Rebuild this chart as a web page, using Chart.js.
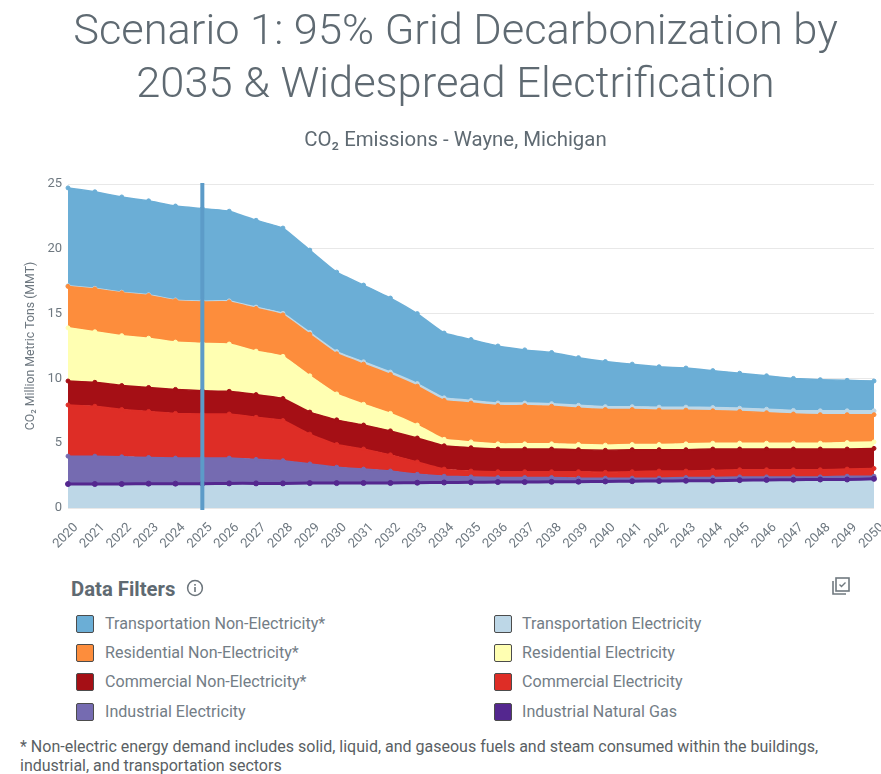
<!DOCTYPE html>
<html>
<head>
<meta charset="utf-8">
<script src="https://cdn.jsdelivr.net/npm/chart.js@4"></script>
<style>
    html, body { margin: 0; padding: 0; background: #fff; font-family: Roboto, sans-serif; }
    #page { position: relative; width: 881px; height: 774px; overflow: hidden; }
    #chartWrap { position: absolute; left: 0; top: 0; }
    h1 { position: absolute; left: 0; top: 3px; width: 911px; margin: 0; text-align: center; font-weight: 300; font-size: 43.4px; line-height: 53px; color: #5f6a72; }
    h2 { position: absolute; left: 0; top: 126px; width: 911px; margin: 0; text-align: center; font-weight: 400; font-size: 20.4px; line-height: 26px; color: #5f6a72; }
    #filters { position: absolute; left: 71px; top: 577px; font-size: 20.3px; font-weight: 700; color: #5f6a72; }
    .icon { position: absolute; }
    .item { position: absolute; font-size: 16.1px; line-height: 20px; color: #737d86; white-space: nowrap; }
    .swatch { position: absolute; width: 16px; height: 16px; border: 1px solid #4c4c4c; border-radius: 2px; }
    #note { position: absolute; left: 20px; top: 737px; width: 850px; font-size: 16px; line-height: 19px; color: #5a5f64; }
</style>
</head>
<body>
<div id="page">
    <div id="chartWrap"><canvas id="areaChart" width="881" height="560"></canvas></div>
    <h1>Scenario 1: 95% Grid Decarbonization by<br>2035 &amp; Widespread Electrification</h1>
    <h2>CO₂ Emissions - Wayne, Michigan</h2>
    <div id="filters">Data Filters</div>
    <svg class="icon" style="left:186px;top:579px" width="18" height="18" viewBox="0 0 18 18">
        <circle cx="9" cy="9" r="7.4" fill="none" stroke="#6b747b" stroke-width="1.5"/>
        <rect x="8.2" y="8" width="1.6" height="5" fill="#6b747b"/>
        <rect x="8.2" y="5" width="1.6" height="1.7" fill="#6b747b"/>
    </svg>
    <svg class="icon" style="left:831px;top:576px" width="20" height="20" viewBox="0 0 20 20">
        <rect x="5" y="2" width="13" height="13" fill="none" stroke="#70797f" stroke-width="1.6"/>
        <path d="M2 5v13h13" fill="none" stroke="#70797f" stroke-width="1.6"/>
        <path d="M8.5 8.5l2 2 4-4" fill="none" stroke="#70797f" stroke-width="1.4"/>
    </svg>
    <div id="legend"></div>
    <div id="note">* Non-electric energy demand includes solid, liquid, and gaseous fuels and steam consumed within the buildings, industrial, and transportation sectors</div>
</div>
<script>
// Values (MMT per year, stacked from the bottom up)
const years = ['2020', '2021', '2022', '2023', '2024', '2025', '2026', '2027', '2028', '2029', '2030', '2031', '2032', '2033', '2034', '2035', '2036', '2037', '2038', '2039', '2040', '2041', '2042', '2043', '2044', '2045', '2046', '2047', '2048', '2049', '2050'];
const yTicks = [0, 5, 10, 15, 20, 25];
const markedYear = '2025';

const industrialGas = [1.85, 1.85, 1.85, 1.88, 1.88, 1.88, 1.9, 1.9, 1.9, 1.92, 1.92, 1.93, 1.93, 1.95, 1.97, 1.98, 2.0, 2.0, 2.02, 2.03, 2.05, 2.07, 2.08, 2.1, 2.1, 2.15, 2.17, 2.18, 2.2, 2.2, 2.25];
const industrialElectricity = [2.15, 2.15, 2.1, 2.02, 1.97, 1.97, 1.95, 1.85, 1.75, 1.48, 1.23, 1.07, 0.92, 0.65, 0.48, 0.42, 0.35, 0.35, 0.33, 0.27, 0.25, 0.23, 0.22, 0.25, 0.25, 0.25, 0.23, 0.22, 0.2, 0.25, 0.2];
const commercialElectricity = [3.95, 3.85, 3.65, 3.55, 3.45, 3.4, 3.4, 3.25, 3.1, 2.3, 1.75, 1.55, 1.25, 0.95, 0.55, 0.45, 0.45, 0.45, 0.45, 0.5, 0.45, 0.5, 0.55, 0.5, 0.55, 0.55, 0.55, 0.55, 0.55, 0.55, 0.6];
const commercialNonElectricity = [1.85, 1.85, 1.85, 1.85, 1.85, 1.8, 1.75, 1.75, 1.7, 1.7, 1.9, 1.85, 1.85, 1.85, 1.8, 1.8, 1.75, 1.75, 1.75, 1.7, 1.7, 1.7, 1.65, 1.65, 1.65, 1.6, 1.6, 1.6, 1.6, 1.55, 1.55];
const residentialElectricity = [4.1, 3.9, 3.85, 3.8, 3.65, 3.65, 3.65, 3.35, 3.25, 2.8, 2.0, 1.6, 1.35, 1.0, 0.5, 0.45, 0.4, 0.4, 0.4, 0.4, 0.4, 0.4, 0.4, 0.45, 0.45, 0.45, 0.45, 0.45, 0.45, 0.5, 0.5];
const residentialNonElectricity = [3.2, 3.3, 3.3, 3.3, 3.2, 3.2, 3.25, 3.3, 3.2, 3.2, 3.1, 3.1, 3.0, 3.0, 3.0, 3.0, 2.95, 2.95, 2.9, 2.8, 2.75, 2.7, 2.65, 2.6, 2.5, 2.45, 2.35, 2.25, 2.2, 2.15, 2.1];
const transportationElectricity = [0.05, 0.05, 0.05, 0.05, 0.05, 0.06, 0.08, 0.1, 0.12, 0.15, 0.17, 0.18, 0.19, 0.2, 0.2, 0.2, 0.2, 0.2, 0.2, 0.22, 0.22, 0.22, 0.23, 0.23, 0.25, 0.25, 0.27, 0.28, 0.3, 0.3, 0.3];
const transportationNonElectricity = [7.55, 7.45, 7.35, 7.25, 7.25, 7.14, 6.92, 6.7, 6.58, 6.35, 6.13, 5.92, 5.71, 5.4, 5.0, 4.7, 4.4, 4.1, 3.95, 3.68, 3.48, 3.28, 3.12, 3.02, 2.85, 2.7, 2.58, 2.47, 2.4, 2.35, 2.3];

const BLUE = 'rgb(107, 174, 214)';
const PALE_BLUE = 'rgb(189, 215, 231)';
const ORANGE = 'rgb(253, 141, 60)';
const PALE_YELLOW = 'rgb(255, 255, 178)';
const DARK_RED = 'rgb(165, 15, 21)';
const RED = 'rgb(222, 45, 38)';
const PURPLE = 'rgb(117, 107, 177)';
const DARK_PURPLE = 'rgb(84, 39, 143)';

function area(label, data, color, fill, fillColor, width, radius) {
    return {
        label: label,
        data: data,
        borderColor: color,
        backgroundColor: fillColor || color,
        pointBackgroundColor: color,
        pointBorderColor: color,
        pointRadius: radius || 2,
        pointBorderWidth: 1,
        borderWidth: width || 1.5,
        tension: 0.12,
        fill: fill
    };
}

// Marker line at the selected year, placed through the x scale
const yearMarker = {
    id: 'yearMarker',
    afterDatasetsDraw(chart) {
        const x = chart.scales.x.getPixelForValue(years.indexOf(markedYear));
        const ctx = chart.ctx;
        ctx.save();
        ctx.fillStyle = 'rgb(92, 155, 200)';
        ctx.fillRect(x - 2, chart.chartArea.top - 1, 4, chart.chartArea.height + 3);
        ctx.restore();
    }
};

const areaCanvas = document.getElementById('areaChart');
const areaChart = new Chart(areaCanvas, {
    type: 'line',
    data: {
        labels: years,
        datasets: [
            area('Industrial Natural Gas', industrialGas, DARK_PURPLE, 'origin', PALE_BLUE, 3, 2.5),
            area('Industrial Electricity', industrialElectricity, PURPLE, '-1'),
            area('Commercial Electricity', commercialElectricity, RED, '-1'),
            area('Commercial Non-Electricity*', commercialNonElectricity, DARK_RED, '-1'),
            area('Residential Electricity', residentialElectricity, PALE_YELLOW, '-1'),
            area('Residential Non-Electricity*', residentialNonElectricity, ORANGE, '-1'),
            area('Transportation Electricity', transportationElectricity, PALE_BLUE, '-1'),
            area('Transportation Non-Electricity*', transportationNonElectricity, BLUE, '-1')
        ]
    },
    options: {
        responsive: false,
        animation: false,
        layout: { padding: { top: 184, right: 7, left: 24, bottom: 0 } },
        plugins: { legend: { display: false }, title: { display: false }, tooltip: { enabled: false } },
        scales: {
            x: {
                grid: { display: false },
                border: { display: false },
                ticks: { color: '#6e7880', font: { family: 'Roboto', size: 13 }, maxRotation: 45, minRotation: 45, autoSkip: false, padding: 4, labelOffset: 8 },
                afterFit(scale) { scale.height = 52; scale.paddingLeft = 0; scale.paddingRight = 0; }
            },
            y: {
                stacked: true,
                min: 0,
                max: 25,
                afterBuildTicks(scale) { scale.ticks = yTicks.map(function (v) { return { value: v }; }); },
                grid: { color: '#e8e8e8', drawTicks: false },
                border: { display: false },
                ticks: { color: '#6e7880', font: { family: 'Roboto', size: 13 }, padding: 6 },
                title: { display: true, text: 'CO₂ Million Metric Tons (MMT)', color: '#6e7880', font: { family: 'Roboto', size: 12.3 }, padding: 0 },
                afterFit(scale) { scale.width = 44; }
            }
        }
    },
    plugins: [yearMarker]
});

// Legend rows, same colours as the chart datasets
const legendRows = [
    ['Transportation Non-Electricity*', BLUE, 76, 105, 613],
    ['Residential Non-Electricity*', ORANGE, 76, 105, 642],
    ['Commercial Non-Electricity*', DARK_RED, 76, 105, 671],
    ['Industrial Electricity', PURPLE, 76, 105, 701],
    ['Transportation Electricity', PALE_BLUE, 494, 522, 613],
    ['Residential Electricity', PALE_YELLOW, 494, 522, 642],
    ['Commercial Electricity', RED, 494, 522, 671],
    ['Industrial Natural Gas', DARK_PURPLE, 494, 522, 701]
];
const legend = document.getElementById('legend');
legendRows.forEach(function (r) {
    const s = document.createElement('div');
    s.className = 'swatch';
    s.style.cssText = 'left:' + r[2] + 'px;top:' + (r[4] + 2) + 'px;background:' + r[1];
    legend.appendChild(s);
    const t = document.createElement('div');
    t.className = 'item';
    t.style.cssText = 'left:' + r[3] + 'px;top:' + (r[4] + 1) + 'px';
    t.textContent = r[0];
    legend.appendChild(t);
});
</script>
</body>
</html>
